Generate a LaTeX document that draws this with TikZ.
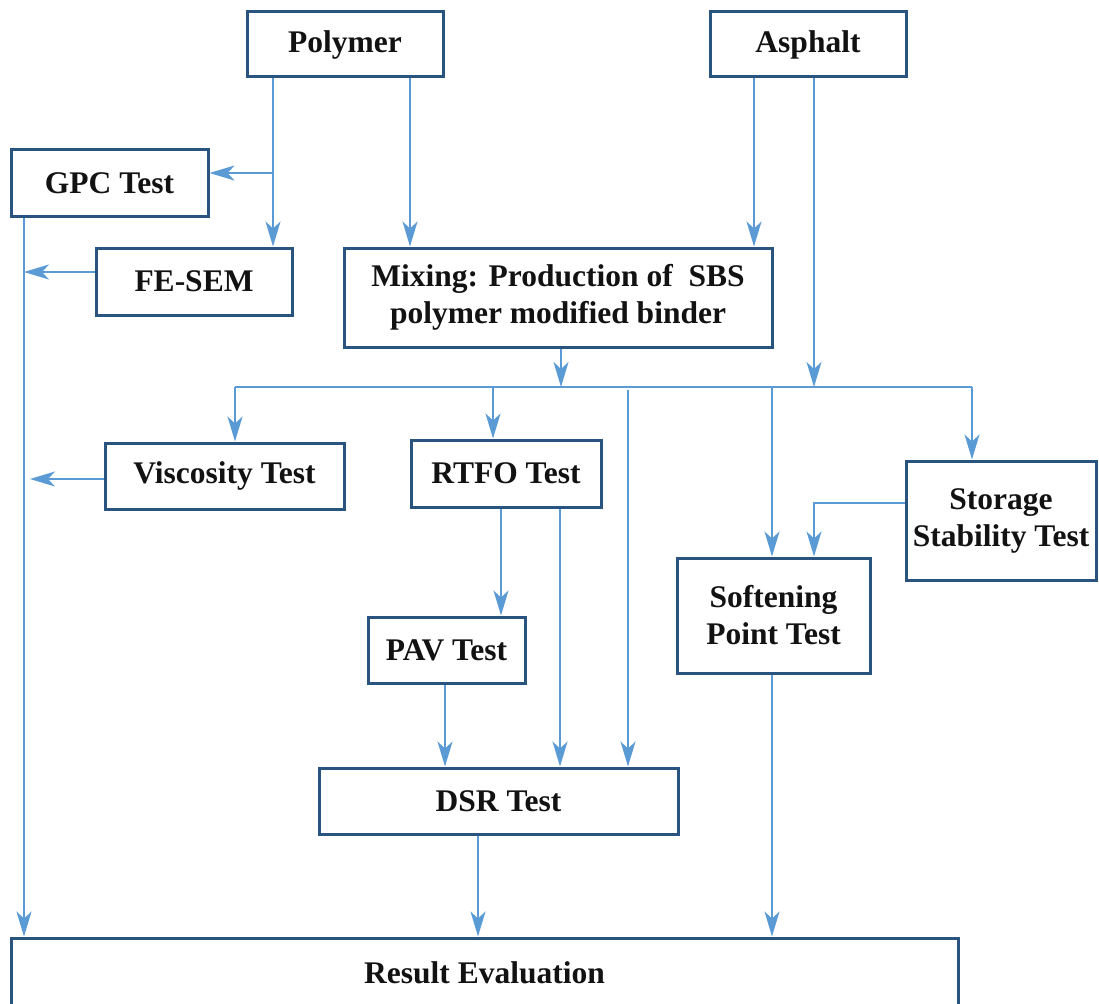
\documentclass[tikz,border=0pt]{standalone}
\usepackage{fontspec}
\setmainfont{Liberation Serif}
\usetikzlibrary{arrows.meta}
\definecolor{boxblue}{HTML}{2A5480}
\definecolor{lineblue}{HTML}{5B9BD5}
\begin{document}
\begin{tikzpicture}[x=1pt,y=-1pt,
  box/.style={draw=boxblue, line width=3pt, fill=white, inner sep=0pt, align=center,
    font=\fontsize{31.5}{37}\selectfont\bfseries, text=black!93},
  arr/.style={draw=lineblue, line width=1.8pt, -{Stealth[length=25pt,width=15pt,inset=7pt]}},
  ln/.style={draw=lineblue, line width=1.8pt}]
\useasboundingbox (0,0) rectangle (1099,1003);
\clip (0,0) rectangle (1099,1003);
\fill[white] (0,0) rectangle (1099,1003);

% boxes
\node[box, minimum width=196pt, minimum height=65pt] (poly) at (345,44.5) {Polymer};
\node[box, minimum width=196pt, minimum height=65pt] (asph) at (808,44.5) {Asphalt};
\node[box, minimum width=197pt, minimum height=66pt] (gpc) at (109.5,183) {GPC Test};
\node[box, minimum width=196pt, minimum height=67pt] (fesem) at (194,281.5) {FE-SEM};
\node[box, minimum width=428pt, minimum height=99pt] (mix) at (558,297.5) {Mixing: Production of~ SBS\\polymer modified binder};
\node[box, minimum width=239pt, minimum height=66pt] (visc) at (224.5,476) {Viscosity Test};
\node[box, minimum width=190pt, minimum height=67pt] (rtfo) at (506,473.5) {RTFO Test};
\node[box, minimum width=190pt, minimum height=119pt] (stor) at (1001,520.5) {Storage\\Stability Test};
\node[box, minimum width=193pt, minimum height=115pt] (soft) at (773.5,615.5) {Softening\\Point Test};
\node[box, minimum width=157pt, minimum height=66pt] (pav) at (446.5,650) {PAV Test};
\node[box, minimum width=359pt, minimum height=66pt] (dsr) at (498.5,801) {DSR Test};
\node[box, minimum width=947pt, minimum height=70pt] (res) at (484.5,973) {Result Evaluation};

% helper coordinates
\coordinate (pA) at ([xshift=-72pt]poly.south);
\coordinate (pB) at ([xshift=65pt]poly.south);
\coordinate (gA) at ([yshift=10pt]gpc.east);
\coordinate (aA) at ([xshift=-54pt]asph.south);
\coordinate (aB) at ([xshift=6pt]asph.south);
\coordinate (mB) at ([xshift=3pt]mix.south);
\coordinate (busL) at (235,387);
\coordinate (busR) at (972,387);
\coordinate (rA) at ([xshift=-13pt]rtfo.north);
\coordinate (dC) at ([xshift=129.5pt]dsr.north);
\coordinate (sA) at ([xshift=-1.5pt]soft.north);
\coordinate (sB) at ([xshift=40.5pt]soft.north);
\coordinate (stA) at ([xshift=-29pt]stor.north);
\coordinate (stL) at ([yshift=17.5pt]stor.west);
\coordinate (rB) at ([xshift=-5pt]rtfo.south);
\coordinate (rC) at ([xshift=54pt]rtfo.south);
\coordinate (pvB) at ([xshift=-1.5pt]pav.south);
\coordinate (gB) at ([xshift=-85.5pt]gpc.south);
\coordinate (fL) at ([yshift=9.5pt]fesem.west);
\coordinate (vL) at ([yshift=-3pt]visc.west);
\coordinate (vT) at ([xshift=6pt]gB |- vL);
\coordinate (dB) at ([xshift=-20.5pt]dsr.south);
\coordinate (sC) at ([xshift=-1.5pt]soft.south);

% connectors
\draw[arr] (pA) -- (pA |- fesem.north);
\draw[arr] (pA |- gA) -- (gA);
\draw[arr] (pB) -- (pB |- mix.north);
\draw[arr] (aA) -- (aA |- mix.north);
\draw[arr] (aB) -- (aB |- busL);
\draw[arr] (mB) -- (mB |- busL);
\draw[ln] (busL) -- (busR);
\draw[arr] (busL) -- (busL |- visc.north);
\draw[arr] (rA |- busL) -- (rA);
\draw[arr] ([yshift=-3pt]dC |- busL) -- (dC);
\draw[arr] (sA |- busL) -- (sA);
\draw[arr] (busR) -- (stA);
\draw[arr] (stL) -- (stL -| sB) -- (sB);
\draw[arr] (rB) -- (rB |- pav.north);
\draw[arr] (rC) -- (rC |- dsr.north);
\draw[arr] (pvB) -- (pvB |- dsr.north);
\draw[arr] (gB) -- (gB |- res.north);
\draw[arr] (fL) -- (fL -| gB);
\draw[arr] (vL) -- (vT);
\draw[arr] (dB) -- (dB |- res.north);
\draw[arr] (sC) -- (sC |- res.north);
\end{tikzpicture}
\end{document}
